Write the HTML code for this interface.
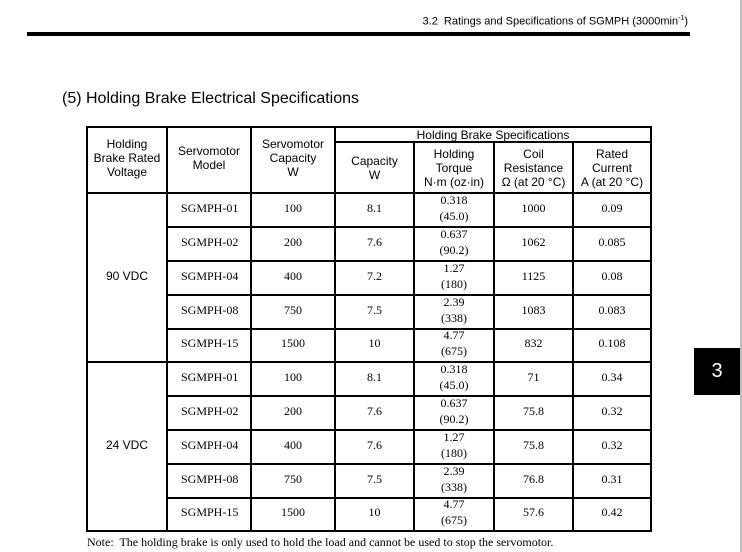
<!DOCTYPE html>
<html><head><meta charset="utf-8"><style>
body{margin:0;width:742px;height:552px;background:#fff;position:relative;overflow:hidden;font-family:"Liberation Sans",sans-serif;color:#000}
.a{position:absolute}
.h{position:absolute;background:#000}
.c{position:absolute;display:flex;align-items:center;justify-content:center;text-align:center;font-family:"Liberation Serif",serif;font-size:12px;line-height:16px;padding-bottom:5px;box-sizing:border-box}
.s{font-family:"Liberation Sans",sans-serif;line-height:14px;padding-bottom:0}
.m{justify-content:flex-start;padding-left:13px}
</style></head><body>
<div class="a" style="right:54px;top:15px;font-size:11px;">3.2&nbsp; Ratings and Specifications of SGMPH (3000min<sup style="font-size:7px">-1</sup>)</div>
<div class="h" style="left:27px;top:32px;width:663px;height:4px"></div>
<div class="a" style="left:62px;top:90px;font-size:16px;">(5) Holding Brake Electrical Specifications</div>
<div class="a" style="right:0;top:0;width:2px;height:552px;background:#bbb"></div>
<div class="h" style="left:694px;top:348px;width:46px;height:47px;color:#fff;font-size:20px;display:flex;align-items:center;justify-content:center">3</div>

<div class="h" style="left:86px;top:126px;width:566px;height:2px"></div>
<div class="h" style="left:86px;top:530px;width:566px;height:2px"></div>
<div class="h" style="left:86px;top:192px;width:566px;height:2px"></div>
<div class="h" style="left:335px;top:141px;width:317px;height:2px"></div>
<div class="h" style="left:86px;top:361px;width:566px;height:2px"></div>
<div class="h" style="left:86px;top:126px;width:2px;height:406px"></div>
<div class="h" style="left:166px;top:126px;width:2px;height:406px"></div>
<div class="h" style="left:250px;top:126px;width:2px;height:406px"></div>
<div class="h" style="left:334px;top:126px;width:2px;height:406px"></div>
<div class="h" style="left:413px;top:141px;width:2px;height:391px"></div>
<div class="h" style="left:493px;top:141px;width:2px;height:391px"></div>
<div class="h" style="left:572px;top:141px;width:2px;height:391px"></div>
<div class="h" style="left:650px;top:126px;width:2px;height:406px"></div>
<div class="h" style="left:166px;top:226px;width:486px;height:2px"></div>
<div class="h" style="left:166px;top:260px;width:486px;height:2px"></div>
<div class="h" style="left:166px;top:294px;width:486px;height:2px"></div>
<div class="h" style="left:166px;top:328px;width:486px;height:2px"></div>
<div class="h" style="left:166px;top:395px;width:486px;height:2px"></div>
<div class="h" style="left:166px;top:429px;width:486px;height:2px"></div>
<div class="h" style="left:166px;top:463px;width:486px;height:2px"></div>
<div class="h" style="left:166px;top:497px;width:486px;height:2px"></div>

<div class="c s" style="left:88px;top:126px;width:78px;height:64px">Holding<br>Brake Rated<br>Voltage</div>
<div class="c s" style="left:168px;top:126px;width:82px;height:64px">Servomotor<br>Model</div>
<div class="c s" style="left:252px;top:126px;width:82px;height:64px">Servomotor<br>Capacity<br>W</div>
<div class="c s" style="left:336px;top:127px;width:314px;height:15px">Holding Brake Specifications</div>
<div class="c s" style="left:336px;top:143px;width:77px;height:49px">Capacity<br>W</div>
<div class="c s" style="left:415px;top:143px;width:78px;height:49px">Holding<br>Torque<br>N·m (oz·in)</div>
<div class="c s" style="left:495px;top:143px;width:77px;height:49px">Coil<br>Resistance<br>Ω (at 20 °C)</div>
<div class="c s" style="left:574px;top:143px;width:76px;height:49px">Rated<br>Current<br>A (at 20 °C)</div>

<div class="c s" style="left:88px;top:194px;width:78px;height:163px">90 VDC</div>
<div class="c s" style="left:88px;top:363px;width:78px;height:163px">24 VDC</div>

<div class="c m" style="left:168px;top:194px;width:82px;height:32px">SGMPH-01</div><div class="c" style="left:252px;top:194px;width:82px;height:32px">100</div><div class="c" style="left:336px;top:194px;width:77px;height:32px">8.1</div><div class="c" style="left:415px;top:194px;width:78px;height:32px">0.318<br>(45.0)</div><div class="c" style="left:495px;top:194px;width:77px;height:32px">1000</div><div class="c" style="left:574px;top:194px;width:76px;height:32px">0.09</div>
<div class="c m" style="left:168px;top:228px;width:82px;height:32px">SGMPH-02</div><div class="c" style="left:252px;top:228px;width:82px;height:32px">200</div><div class="c" style="left:336px;top:228px;width:77px;height:32px">7.6</div><div class="c" style="left:415px;top:228px;width:78px;height:32px">0.637<br>(90.2)</div><div class="c" style="left:495px;top:228px;width:77px;height:32px">1062</div><div class="c" style="left:574px;top:228px;width:76px;height:32px">0.085</div>
<div class="c m" style="left:168px;top:262px;width:82px;height:32px">SGMPH-04</div><div class="c" style="left:252px;top:262px;width:82px;height:32px">400</div><div class="c" style="left:336px;top:262px;width:77px;height:32px">7.2</div><div class="c" style="left:415px;top:262px;width:78px;height:32px">1.27<br>(180)</div><div class="c" style="left:495px;top:262px;width:77px;height:32px">1125</div><div class="c" style="left:574px;top:262px;width:76px;height:32px">0.08</div>
<div class="c m" style="left:168px;top:296px;width:82px;height:32px">SGMPH-08</div><div class="c" style="left:252px;top:296px;width:82px;height:32px">750</div><div class="c" style="left:336px;top:296px;width:77px;height:32px">7.5</div><div class="c" style="left:415px;top:296px;width:78px;height:32px">2.39<br>(338)</div><div class="c" style="left:495px;top:296px;width:77px;height:32px">1083</div><div class="c" style="left:574px;top:296px;width:76px;height:32px">0.083</div>
<div class="c m" style="left:168px;top:330px;width:82px;height:31px">SGMPH-15</div><div class="c" style="left:252px;top:330px;width:82px;height:31px">1500</div><div class="c" style="left:336px;top:330px;width:77px;height:31px">10</div><div class="c" style="left:415px;top:330px;width:78px;height:31px">4.77<br>(675)</div><div class="c" style="left:495px;top:330px;width:77px;height:31px">832</div><div class="c" style="left:574px;top:330px;width:76px;height:31px">0.108</div>
<div class="c m" style="left:168px;top:363px;width:82px;height:32px">SGMPH-01</div><div class="c" style="left:252px;top:363px;width:82px;height:32px">100</div><div class="c" style="left:336px;top:363px;width:77px;height:32px">8.1</div><div class="c" style="left:415px;top:363px;width:78px;height:32px">0.318<br>(45.0)</div><div class="c" style="left:495px;top:363px;width:77px;height:32px">71</div><div class="c" style="left:574px;top:363px;width:76px;height:32px">0.34</div>
<div class="c m" style="left:168px;top:397px;width:82px;height:32px">SGMPH-02</div><div class="c" style="left:252px;top:397px;width:82px;height:32px">200</div><div class="c" style="left:336px;top:397px;width:77px;height:32px">7.6</div><div class="c" style="left:415px;top:397px;width:78px;height:32px">0.637<br>(90.2)</div><div class="c" style="left:495px;top:397px;width:77px;height:32px">75.8</div><div class="c" style="left:574px;top:397px;width:76px;height:32px">0.32</div>
<div class="c m" style="left:168px;top:431px;width:82px;height:32px">SGMPH-04</div><div class="c" style="left:252px;top:431px;width:82px;height:32px">400</div><div class="c" style="left:336px;top:431px;width:77px;height:32px">7.6</div><div class="c" style="left:415px;top:431px;width:78px;height:32px">1.27<br>(180)</div><div class="c" style="left:495px;top:431px;width:77px;height:32px">75.8</div><div class="c" style="left:574px;top:431px;width:76px;height:32px">0.32</div>
<div class="c m" style="left:168px;top:465px;width:82px;height:32px">SGMPH-08</div><div class="c" style="left:252px;top:465px;width:82px;height:32px">750</div><div class="c" style="left:336px;top:465px;width:77px;height:32px">7.5</div><div class="c" style="left:415px;top:465px;width:78px;height:32px">2.39<br>(338)</div><div class="c" style="left:495px;top:465px;width:77px;height:32px">76.8</div><div class="c" style="left:574px;top:465px;width:76px;height:32px">0.31</div>
<div class="c m" style="left:168px;top:499px;width:82px;height:31px">SGMPH-15</div><div class="c" style="left:252px;top:499px;width:82px;height:31px">1500</div><div class="c" style="left:336px;top:499px;width:77px;height:31px">10</div><div class="c" style="left:415px;top:499px;width:78px;height:31px">4.77<br>(675)</div><div class="c" style="left:495px;top:499px;width:77px;height:31px">57.6</div><div class="c" style="left:574px;top:499px;width:76px;height:31px">0.42</div>

<div class="a" style="left:87px;top:535px;font-family:'Liberation Serif',serif;font-size:12px;">Note:&nbsp; The holding brake is only used to hold the load and cannot be used to stop the servomotor.</div>
</body></html>
